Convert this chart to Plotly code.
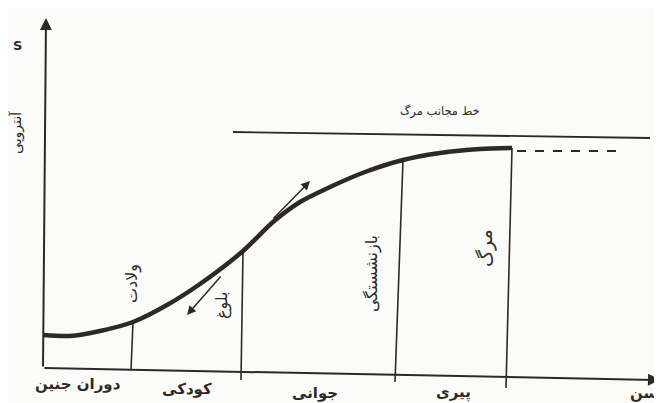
import plotly.graph_objects as go

# entropy curve (age, S) in drawing units, origin at the axes corner
age = [0, 27, 57, 90, 124, 157, 200, 230, 257, 287, 322, 360, 397, 437, 469]
entropy = [33, 32, 37, 46, 63, 84, 117, 146, 166, 181, 196, 208, 215, 219, 220]

# vertical stage markers: x at top/bottom, y top/bottom
mark_names = ["ولادت", "بلوغ", "بازنشستگی", "مرگ"]
mark_x_top = [90, 200, 360, 469]
mark_x_bot = [88, 198, 352, 463]
mark_y_top = [46, 117, 208, 220]
mark_y_bot = [-2, -12, -14, -20]

# stage labels along the age axis
stages = ["دوران جنین", "کودکی", "جوانی", "پیری"]
stage_x = [35, 144, 272, 410]
stage_y = [-16, -21, -25, -24]

# asymptote ("line of death") and dashed continuation
asym_x = [190, 607]
asym_y = [236, 230]
dash_x = [474, 580]
dash_y = [217, 217]

ink = "#2e2925"
font = "DejaVu Sans"

fig = go.Figure()

fig.add_trace(go.Scatter(x=age, y=entropy, mode="lines",
                         line=dict(color=ink, width=4.5, shape="spline", smoothing=0.8),
                         hoverinfo="skip"))

for i in range(len(mark_names)):
    fig.add_trace(go.Scatter(x=[mark_x_bot[i], mark_x_top[i]], y=[mark_y_bot[i], mark_y_top[i]],
                             mode="lines", line=dict(color=ink, width=1.6), hoverinfo="skip"))

fig.add_trace(go.Scatter(x=asym_x, y=asym_y, mode="lines",
                         line=dict(color=ink, width=1.8), hoverinfo="skip"))
fig.add_trace(go.Scatter(x=dash_x, y=dash_y, mode="lines",
                         line=dict(color=ink, width=2, dash="dash"), hoverinfo="skip"))

# axes drawn as arrows
fig.add_annotation(x=3, y=350, ax=0, ay=0, xref="x", yref="y", axref="x", ayref="y",
                   showarrow=True, arrowhead=2, arrowsize=1.2, arrowwidth=2, arrowcolor=ink, text="")
fig.add_annotation(x=617, y=-12, ax=0, ay=0, xref="x", yref="y", axref="x", ayref="y",
                   showarrow=True, arrowhead=2, arrowsize=1.2, arrowwidth=2, arrowcolor=ink, text="")

# tangent arrows
fig.add_annotation(x=267, y=187, ax=229, ay=148, xref="x", yref="y", axref="x", ayref="y",
                   showarrow=True, arrowhead=2, arrowsize=1.2, arrowwidth=1.5, arrowcolor=ink, text="")
fig.add_annotation(x=144, y=53, ax=179, ay=93, xref="x", yref="y", axref="x", ayref="y",
                   showarrow=True, arrowhead=2, arrowsize=1.2, arrowwidth=1.5, arrowcolor=ink, text="")

# texts
fig.add_annotation(x=-26, y=323, text="<b>S</b>", showarrow=False,
                   font=dict(family=font, size=13, color=ink))
fig.add_annotation(x=-27, y=235, text="آنتروپی", showarrow=False, textangle=-90,
                   font=dict(family=font, size=14, color=ink))
fig.add_annotation(x=397, y=257, text="خط مجانب مرگ", showarrow=False,
                   font=dict(family=font, size=11.5, color=ink))

mark_lx = [89, 179, 329, 442]
mark_ly = [84, 63, 94, 120]
mark_size = [16, 16, 16, 19]
for i in range(len(mark_names)):
    fig.add_annotation(x=mark_lx[i], y=mark_ly[i], text=mark_names[i], showarrow=False,
                       textangle=-90, font=dict(family=font, size=mark_size[i], color=ink))

for i in range(len(stages)):
    fig.add_annotation(x=stage_x[i], y=stage_y[i], text="<b>" + stages[i] + "</b>", showarrow=False,
                       font=dict(family=font, size=15, color=ink))
fig.add_annotation(x=617, y=-25, text="<b>سن</b>", showarrow=False, xanchor="right",
                   font=dict(family=font, size=15, color=ink))

# the page body has an 8px margin, so the figure is 8px smaller and the ranges start 8 units later
fig.update_layout(width=654, height=395, margin=dict(l=0, r=0, t=0, b=0),
                  paper_bgcolor="#fbfbf9", plot_bgcolor="#fbfbf9", showlegend=False,
                  xaxis=dict(range=[-35, 619], visible=False, fixedrange=True),
                  yaxis=dict(range=[-35, 360], visible=False, fixedrange=True))

fig.write_html("out.html")
